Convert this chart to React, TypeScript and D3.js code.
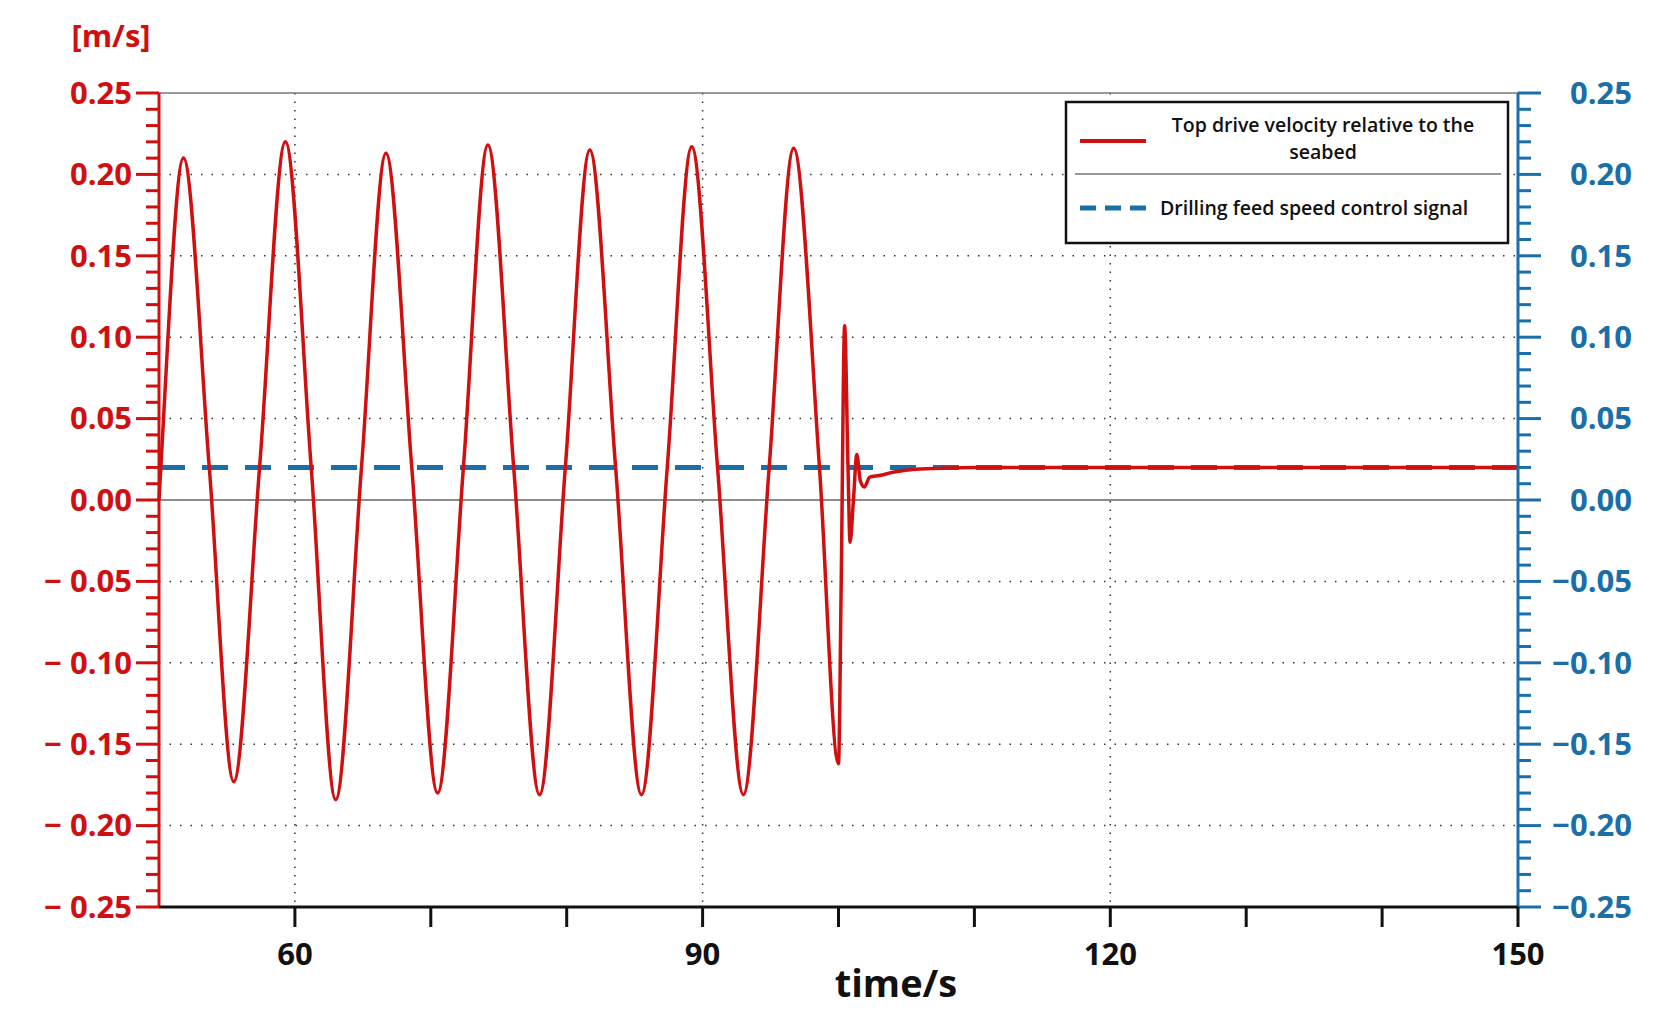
import React from "react";
import * as d3 from "d3";

const tPts = [50, 50.2, 51.8, 53.7, 55.5, 57.4, 59.3, 61.2, 63, 64.9, 66.7, 68.6, 70.5, 72.4, 74.2, 76.1, 78, 79.9, 81.7, 83.6, 85.5, 87.4, 89.2, 91.1, 93, 94.9, 96.7, 98.6, 100, 100.2, 100.45, 100.7, 100.85, 101.1, 101.35, 101.6, 101.9, 102.3, 103, 104, 106, 110, 120, 130, 140, 150];
const vPts = [0.0, 0.03, 0.21, 0.02, -0.173, 0.02, 0.22, 0.02, -0.184, 0.02, 0.213, 0.02, -0.18, 0.02, 0.218, 0.02, -0.181, 0.02, 0.215, 0.02, -0.181, 0.02, 0.217, 0.02, -0.181, 0.02, 0.216, 0.02, -0.162, -0.05, 0.107, 0.02, -0.026, 0.0, 0.028, 0.012, 0.008, 0.014, 0.015, 0.017, 0.019, 0.02, 0.02, 0.02, 0.02, 0.02];
const controlSignal = 0.02;
const yTicks = [0.25, 0.2, 0.15, 0.1, 0.05, 0, -0.05, -0.1, -0.15, -0.2, -0.25];
const xLabels = [60, 90, 120, 150];
const xTicks = [60, 70, 80, 90, 100, 110, 120, 130, 140, 150];
const legendItems = ["Top drive velocity relative to the", "seabed", "Drilling feed speed control signal"];

const RED = "#d01010";
const BLUE = "#1a6fa8";

export default function App() {
  const L = 159, R = 1518, T = 93, B = 907;
  const x = d3.scaleLinear().domain([50, 150]).range([L, R]);
  const y = d3.scaleLinear().domain([-0.25, 0.25]).range([B, T]);
  const data = tPts.map((t, i) => [t, vPts[i]] as [number, number]);
  const line = d3.line<[number, number]>().x(d => x(d[0])).y(d => y(d[1])).curve(d3.curveMonotoneX);
  const minor = d3.range(-250, 251, 10).map(v => v / 1000);
  const fmt = (v: number) => (v < 0 ? "− " : "") + Math.abs(v).toFixed(2);
  const font = "'Open Sans', 'DejaVu Sans', sans-serif";
  return (
    <svg width={1659} height={1031} style={{ position: "absolute", left: 0, top: 0, background: "#fff" }} fontFamily={font}>
      {/* grid */}
      {[60, 90, 120].map(v => <line key={"gx" + v} x1={x(v)} x2={x(v)} y1={T} y2={B} stroke="#333" strokeWidth={1.5} strokeDasharray="1.5 7" />)}
      {yTicks.filter(v => v !== 0 && Math.abs(v) !== 0.25).map(v => <line key={"gy" + v} x1={L} x2={R} y1={y(v)} y2={y(v)} stroke="#333" strokeWidth={1.5} strokeDasharray="1.5 9" />)}
      <line x1={L} x2={R} y1={T} y2={T} stroke="#777" strokeWidth={1.5} />
      <line x1={L} x2={R} y1={y(0)} y2={y(0)} stroke="#666" strokeWidth={1.5} />
      {/* series */}
      <line x1={x(50)} x2={x(150)} y1={y(controlSignal)} y2={y(controlSignal)} stroke={BLUE} strokeWidth={5} strokeDasharray="26 17" />
      <path d={line(data) || ""} fill="none" stroke={RED} strokeWidth={3.5} />
      {/* left axis */}
      <line x1={L} x2={L} y1={T} y2={B} stroke={RED} strokeWidth={3} />
      {minor.map(v => <line key={"lm" + v} x1={L} x2={L - (Math.round(v * 1000) % 50 === 0 ? 23 : 13)} y1={y(v)} y2={y(v)} stroke={RED} strokeWidth={3} />)}
      {yTicks.map(v => <text key={"lt" + v} x={132} y={y(v)} dy="0.35em" textAnchor="end" fill={RED} fontSize={31} fontWeight="bold">{fmt(v)}</text>)}
      <text x={111} y={47} textAnchor="middle" fill={RED} fontSize={31} fontWeight="bold">[m/s]</text>
      {/* right axis */}
      <line x1={R} x2={R} y1={T} y2={B} stroke={BLUE} strokeWidth={3} />
      {minor.map(v => <line key={"rm" + v} x1={R} x2={R + (Math.round(v * 1000) % 50 === 0 ? 23 : 13)} y1={y(v)} y2={y(v)} stroke={BLUE} strokeWidth={3} />)}
      {yTicks.map(v => <text key={"rt" + v} x={1632} y={y(v)} dy="0.35em" textAnchor="end" fill={BLUE} fontSize={31} fontWeight="bold">{(v < 0 ? "−" : "") + Math.abs(v).toFixed(2)}</text>)}
      {/* bottom axis */}
      <line x1={L} x2={R} y1={B} y2={B} stroke="#111" strokeWidth={3} />
      {xTicks.map(v => <line key={"bt" + v} x1={x(v)} x2={x(v)} y1={B} y2={B + 20} stroke="#111" strokeWidth={3} />)}
      {xLabels.map(v => <text key={"bl" + v} x={x(v)} y={B + 58} textAnchor="middle" fill="#111" fontSize={31} fontWeight="bold">{v}</text>)}
      <text x={896} y={997} textAnchor="middle" fill="#111" fontSize={38} fontWeight="bold">time/s</text>
      {/* legend */}
      <rect x={1066} y={102} width={442} height={141} fill="#fff" stroke="#111" strokeWidth={2.5} />
      <line x1={1080} x2={1146} y1={141} y2={141} stroke={RED} strokeWidth={4} />
      <text x={1323} y={125} dy="0.35em" textAnchor="middle" fontSize={19.5} fontWeight="600" fill="#111">{legendItems[0]}</text>
      <text x={1323} y={152} dy="0.35em" textAnchor="middle" fontSize={19.5} fontWeight="600" fill="#111">{legendItems[1]}</text>
      <line x1={1075} x2={1501} y1={174} y2={174} stroke="#333" strokeWidth={1.2} />
      <line x1={1080} x2={1146} y1={208} y2={208} stroke={BLUE} strokeWidth={5} strokeDasharray="16 9" />
      <text x={1160} y={208} dy="0.35em" fontSize={19.5} fontWeight="600" fill="#111">{legendItems[2]}</text>
    </svg>
  );
}
